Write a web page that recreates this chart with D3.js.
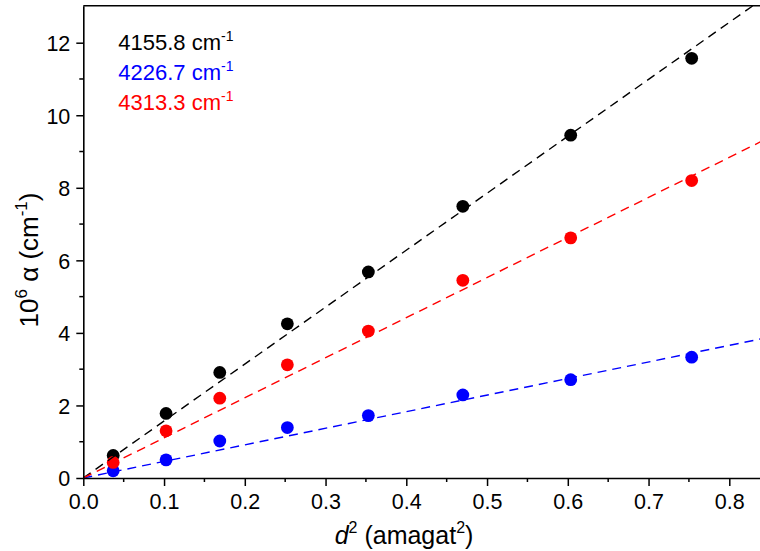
<!DOCTYPE html>
<html>
<head>
<meta charset="utf-8">
<script src="https://cdn.jsdelivr.net/npm/d3@7"></script>
<style>
  body { margin: 0; background: #fff; }
  svg { font-family: "Liberation Sans", Arial, sans-serif; }
  .dash { fill: none; stroke-width: 1.4; stroke-dasharray: 9 6; }
</style>
</head>
<body>
<svg id="canvas" width="760" height="551"></svg>
<script>
(function (d3) {

    const d2 = [0.037, 0.1025, 0.169, 0.2527, 0.353, 0.470, 0.6036, 0.7534];
    const black = [0.62, 1.78, 2.91, 4.25, 5.68, 7.49, 9.45, 11.57];
    const blue = [0.20, 0.50, 1.02, 1.39, 1.72, 2.29, 2.71, 3.33];
    const red = [0.43, 1.30, 2.20, 3.12, 4.05, 5.45, 6.62, 8.20];

    const seriesNames = ['4155.8', '4226.7', '4313.3'];
    const seriesColors = ['#000000', '#0000ff', '#ff0000'];
    const seriesValues = [black, blue, red];
    // linear fits, slope and intercept
    const fitSlopes = [15.7, 4.57, 11.05];
    const fitIntercepts = [0.0, 0.0, 0.0];

    const xTicks = [0, 0.1, 0.2, 0.3, 0.4, 0.5, 0.6, 0.7, 0.8];
    const yTicks = [0, 2, 4, 6, 8, 10, 12];

    const left = 83.3, right = 761.6, top = 5.7, bottom = 478;

    let svg = d3.select('#canvas');
    let x = d3.scaleLinear().domain([0, 0.84]).range([left, right]);
    let y = d3.scaleLinear().domain([0, 13.02]).range([bottom, top]);

    svg.append('defs').append('clipPath').attr('id', 'plot')
        .append('rect')
        .attr('x', left).attr('y', top)
        .attr('width', right - left).attr('height', bottom - top);

    // points
    seriesValues.forEach(function (vals, i) {
        svg.append('g').selectAll('circle')
            .data(vals)
            .enter().append('circle')
            .attr('cx', (v, j) => x(d2[j]))
            .attr('cy', (v) => y(v))
            .attr('r', 6.4)
            .attr('fill', seriesColors[i]);
    });

    // fit lines
    let line = d3.line().x((d) => x(d[0])).y((d) => y(d[1]));
    fitSlopes.forEach(function (s, i) {
        let b = fitIntercepts[i];
        let pts = x.domain().map((v) => [v, b + s * v]);
        svg.append('path')
            .attr('class', 'dash')
            .attr('clip-path', 'url(#plot)')
            .attr('stroke', seriesColors[i])
            .attr('d', line(pts));
    });

    // axes
    let xAxis = d3.axisBottom(x).tickValues(xTicks).tickFormat(d3.format('.1f'))
        .tickSizeInner(8).tickSizeOuter(0).tickPadding(5);
    let gx = svg.append('g').attr('transform', `translate(0,${bottom})`).call(xAxis);
    gx.append('g').selectAll('line')
        .data(xTicks.map((t) => t + 0.05).filter((t) => t < 0.84))
        .enter().append('line')
        .attr('x1', (d) => x(d)).attr('x2', (d) => x(d))
        .attr('y1', 0).attr('y2', 4).attr('stroke', '#000').attr('stroke-width', 1.5);

    let yAxis = d3.axisLeft(y).tickValues(yTicks).tickFormat(d3.format('d'))
        .tickSizeInner(7).tickSizeOuter(0).tickPadding(6);
    let gy = svg.append('g').attr('transform', `translate(${left},0)`).call(yAxis);
    gy.append('g').selectAll('line')
        .data(yTicks.map((t) => t + 1).filter((t) => t < 13))
        .enter().append('line')
        .attr('x1', 0).attr('x2', -4)
        .attr('y1', (d) => y(d)).attr('y2', (d) => y(d))
        .attr('stroke', '#000').attr('stroke-width', 1.5);

    [gx, gy].forEach(function (g) {
        g.select('.domain').attr('stroke-width', 1.6);
        g.selectAll('.tick line').attr('stroke-width', 1.5);
        g.selectAll('.tick text').attr('font-size', 21.5).attr('fill', '#000')
            .attr('font-family', '"Liberation Sans", Arial, sans-serif');
    });
    gx.selectAll('.tick text').attr('dy', '0.83em');
    gy.selectAll('.tick text').attr('dy', '0.36em');

    // top border
    svg.append('line')
        .attr('x1', left).attr('x2', 760)
        .attr('y1', top).attr('y2', top)
        .attr('stroke', '#000').attr('stroke-width', 1.6);

    // legend
    seriesNames.forEach(function (name, i) {
        let t = svg.append('text')
            .attr('x', 118.3).attr('y', 50 + i * 30)
            .attr('font-size', 22).attr('fill', seriesColors[i]);
        t.append('tspan').text(name + ' cm');
        t.append('tspan').attr('dy', -9).attr('font-size', 14).text('-1');
    });

    // axis titles
    let xt = svg.append('text')
        .attr('x', 404).attr('y', 544)
        .attr('text-anchor', 'middle').attr('font-size', 25);
    xt.append('tspan').attr('font-style', 'italic').text('d');
    xt.append('tspan').attr('dy', -11).attr('font-size', 16).text('2');
    xt.append('tspan').attr('dy', 11).text(' (amagat');
    xt.append('tspan').attr('dy', -11).attr('font-size', 16).text('2');
    xt.append('tspan').attr('dy', 11).text(')');

    let yt = svg.append('text')
        .attr('transform', 'translate(38,260) rotate(-90)')
        .attr('text-anchor', 'middle').attr('font-size', 26);
    yt.append('tspan').text('10');
    yt.append('tspan').attr('dy', -11).attr('font-size', 17).text('6');
    yt.append('tspan').attr('dy', 11).text(' α (cm');
    yt.append('tspan').attr('dy', -11).attr('font-size', 17).text('-1');
    yt.append('tspan').attr('dy', 11).text(')');

})(d3)
</script>
</body>
</html>
